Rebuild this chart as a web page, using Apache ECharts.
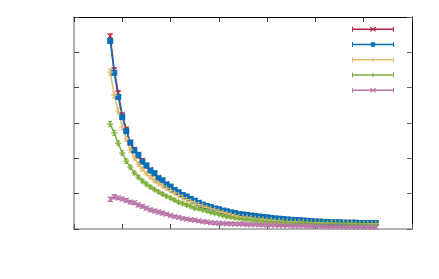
<!DOCTYPE html>
<html><head><meta charset="utf-8">
<script src="https://cdn.jsdelivr.net/npm/echarts@6/dist/echarts.min.js"></script>
<style>html,body{margin:0;padding:0;background:#fff}#c{width:439px;height:279px}</style>
</head><body><div id="c"></div><script>
const xValues = [9,10,11,12,13,14,15,16,17,18,19,20,21,22,23,24,25,26,27,28,29,30,31,32,33,34,35,36,37,38,39,40,41,42,43,44,45,46,47,48,49,50,51,52,53,54,55,56,57,58,59,60,61,62,63,64,65,66,67,68,69,70,71,72,73,74,75];
const seriesNames = ['A','B','C','D','E'];
const redValues = [5.46,4.50,3.85,3.23,2.83,2.43,2.25,2.06,1.94,1.77,1.68,1.55,1.46,1.35,1.28,1.18,1.12,1.02,0.97,0.90,
  0.86,0.79,0.75,0.68,0.66,0.61,0.59,0.55,0.53,0.49,
  0.48,0.44,0.43,0.41,0.40,0.38,0.37,0.36,0.34,0.33,
  0.31,0.30,0.29,0.28,0.27,0.26,0.25,0.25,0.24,0.23,
  0.22,0.21,0.21,0.20,0.20,0.19,0.19,0.19,0.18,0.18,
  0.18,0.18,0.17,0.17,0.17,0.17,0.17];
const blueValues = [5.32,4.42,3.74,3.17,2.77,2.45,2.22,2.10,1.90,1.80,
  1.65,1.58,1.43,1.38,1.26,1.20,1.10,1.04,0.96,0.92,
  0.85,0.80,0.74,0.69,0.65,0.62,0.58,0.56,0.52,0.50,
  0.47,0.45,0.42,0.41,0.40,0.38,0.37,0.35,0.34,0.33,
  0.31,0.30,0.29,0.28,0.27,0.26,0.25,0.25,0.24,0.23,
  0.22,0.21,0.21,0.20,0.20,0.19,0.19,0.19,0.18,0.18,
  0.18,0.18,0.17,0.17,0.17,0.17,0.17];
const orangeValues = [4.44,3.79,3.34,2.89,2.55,2.24,2.01,1.84,1.70,1.57,
  1.47,1.37,1.29,1.22,1.15,1.08,1.02,0.95,0.89,0.83,
  0.78,0.74,0.69,0.65,0.61,0.57,0.54,0.50,0.47,0.44,
  0.41,0.38,0.35,0.34,0.33,0.31,0.29,0.28,0.27,0.25,
  0.25,0.23,0.23,0.22,0.21,0.21,0.20,0.20,0.19,0.19,
  0.18,0.18,0.18,0.17,0.17,0.17,0.16,0.16,0.16,0.16,
  0.16,0.15,0.15,0.15,0.15,0.15,0.15];
const greenValues = [2.97,2.72,2.43,2.15,1.92,1.75,1.59,1.47,1.36,1.27,
  1.19,1.12,1.05,0.99,0.93,0.88,0.82,0.76,0.72,0.68,
  0.64,0.59,0.57,0.54,0.51,0.47,0.44,0.41,0.38,0.35,
  0.33,0.31,0.30,0.28,0.27,0.26,0.25,0.24,0.23,0.22,
  0.21,0.21,0.20,0.20,0.19,0.19,0.19,0.18,0.18,0.17,
  0.17,0.16,0.16,0.16,0.16,0.15,0.15,0.15,0.15,0.14,
  0.14,0.14,0.14,0.14,0.13,0.13,0.13];
const pinkValues = [0.84,0.91,0.88,0.85,0.81,0.76,0.74,0.68,0.64,0.59,
  0.54,0.51,0.48,0.45,0.42,0.38,0.35,0.33,0.30,0.28,
  0.26,0.25,0.23,0.21,0.20,0.18,0.17,0.16,0.16,0.15,
  0.15,0.14,0.14,0.14,0.13,0.13,0.13,0.12,0.12,0.12,
  0.11,0.11,0.10,0.10,0.10,0.09,0.09,0.09,0.09,0.08,
  0.08,0.08,0.08,0.07,0.07,0.07,0.07,0.07,0.06,0.06,
  0.06,0.06,0.06,0.06,0.06,0.05,0.05];
const redErr = [0.06,0.06,0.06,0.05,0.05,0.05,0.05,0.05,0.05,0.05,
  0.04,0.04,0.04,0.04,0.04,0.04,0.04,0.04,0.04,0.04,
  0.04,0.04,0.04,0.04,0.04,0.03,0.03,0.03,0.03,0.03,
  0.03,0.03,0.03,0.03,0.03,0.03,0.03,0.03,0.03,0.03,
  0.03,0.03,0.03,0.03,0.03,0.03,0.03,0.03,0.03,0.03,
  0.03,0.03,0.03,0.03,0.03,0.03,0.03,0.03,0.03,0.03,
  0.03,0.03,0.03,0.03,0.03,0.03,0.03];
const blueErr = [0.06,0.06,0.06,0.05,0.05,0.05,0.05,0.05,0.05,0.05,
  0.05,0.05,0.04,0.04,0.04,0.04,0.04,0.04,0.04,0.04,
  0.04,0.04,0.04,0.04,0.04,0.04,0.04,0.03,0.03,0.03,
  0.03,0.03,0.03,0.03,0.03,0.03,0.03,0.03,0.03,0.03,
  0.03,0.03,0.03,0.03,0.03,0.03,0.03,0.03,0.03,0.03,
  0.03,0.03,0.03,0.03,0.03,0.03,0.03,0.03,0.03,0.03,
  0.03,0.03,0.03,0.03,0.03,0.03,0.03];
const orangeErr = [0.09,0.09,0.08,0.08,0.07,0.07,0.06,0.06,0.06,0.05,
  0.05,0.05,0.05,0.05,0.04,0.04,0.04,0.04,0.04,0.04,
  0.04,0.04,0.04,0.04,0.04,0.03,0.03,0.03,0.03,0.03,
  0.03,0.03,0.03,0.03,0.03,0.03,0.03,0.03,0.03,0.03,
  0.03,0.03,0.03,0.03,0.03,0.03,0.03,0.03,0.03,0.03,
  0.03,0.03,0.03,0.03,0.03,0.03,0.03,0.03,0.03,0.03,
  0.03,0.03,0.03,0.03,0.03,0.03,0.03];
const greenErr = [0.07,0.07,0.06,0.06,0.06,0.05,0.05,0.05,0.05,0.05,
  0.04,0.04,0.04,0.04,0.04,0.04,0.04,0.04,0.04,0.04,
  0.04,0.04,0.03,0.03,0.03,0.03,0.03,0.03,0.03,0.03,
  0.03,0.03,0.03,0.03,0.03,0.03,0.03,0.03,0.03,0.03,
  0.03,0.03,0.03,0.03,0.03,0.03,0.03,0.03,0.03,0.03,
  0.03,0.03,0.03,0.03,0.03,0.03,0.03,0.03,0.03,0.03,
  0.03,0.03,0.03,0.03,0.03,0.03,0.03];
const pinkErr = [0.06,0.06,0.05,0.05,0.05,0.05,0.05,0.05,0.05,0.05,
  0.05,0.05,0.05,0.05,0.04,0.04,0.04,0.04,0.04,0.04,
  0.04,0.04,0.04,0.04,0.04,0.04,0.04,0.04,0.04,0.04,
  0.04,0.04,0.04,0.04,0.04,0.04,0.04,0.04,0.04,0.04,
  0.03,0.03,0.03,0.03,0.03,0.03,0.03,0.03,0.03,0.03,
  0.03,0.03,0.03,0.03,0.03,0.03,0.03,0.03,0.03,0.03,
  0.03,0.03,0.03,0.03,0.03,0.03,0.03];

const colors = ['#b5223f','#0b6fb8','#e3bd6e','#7faf3f','#b874a6'];
const allValues = [redValues, blueValues, orangeValues, greenValues, pinkValues];
const allErr = [redErr, blueErr, orangeErr, greenErr, pinkErr];

const X_SYM = 'path://M1,0 L5,4 L9,0 L10,1 L6,5 L10,9 L9,10 L5,6 L1,10 L0,9 L4,5 L0,1 Z';
const PLUS_SYM = 'path://M4,0 H6 V4 H10 V6 H6 V10 H4 V6 H0 V4 H4 Z';
const markers = [X_SYM, 'rect', PLUS_SYM, PLUS_SYM, X_SYM];
const markerSizes = [6, 6, 6, 6, 6];

const base = 'M0,0 H1 V5 H0 Z M1,1.8 H41 V3.2 H1 Z M41,0 H42 V5 H41 Z ';
const lgX = 'M18.5,0 L21,1.8 L23.5,0 L24.2,0.7 L21.8,2.5 L24.2,4.3 L23.5,5 L21,3.2 L18.5,5 L17.8,4.3 L20.2,2.5 L17.8,0.7 Z';
const lgSq = 'M18.8,0.2 H23.2 V4.8 H18.8 Z';
const lgPlus = 'M20.5,0.3 H21.5 V4.7 H20.5 Z';
const legendIcons = ['path://' + base + lgX, 'path://' + base + lgSq, 'path://' + base + lgPlus, 'path://' + base + lgPlus, 'path://' + base + lgX];

function errRenderer(color) {
  return function (params, api) {
    const x = api.value(0), y = api.value(1), e = api.value(2);
    const t = api.coord([x, y + e]), b = api.coord([x, y - e]);
    const hw = 2;
    const st = { stroke: color, lineWidth: 1.2 };
    return { type: 'group', children: [
      { type: 'line', shape: { x1: t[0], y1: t[1], x2: b[0], y2: b[1] }, style: st },
      { type: 'line', shape: { x1: t[0] - hw, y1: t[1], x2: t[0] + hw, y2: t[1] }, style: st },
      { type: 'line', shape: { x1: b[0] - hw, y1: b[1], x2: b[0] + hw, y2: b[1] }, style: st }
    ]};
  };
}

const series = [];
seriesNames.forEach((name, i) => {
  series.push({
    type: 'custom', name: name, silent: true,
    itemStyle: { color: colors[i] },
    renderItem: errRenderer(colors[i]),
    data: xValues.map((x, j) => [x, allValues[i][j], allErr[i][j]]),
    z: 2
  });
  series.push({
    type: 'line', name: name, silent: true,
    symbol: markers[i], symbolSize: markerSizes[i],
    itemStyle: { color: colors[i] },
    lineStyle: { color: colors[i], width: 1.5 },
    data: xValues.map((x, j) => [x, allValues[i][j]]),
    z: 2
  });
});

const chart = echarts.init(document.getElementById('c'), null, { renderer: 'canvas' });
function axis(extra) {
  return Object.assign({
    type: 'value', axisLabel: { show: false }, splitLine: { show: false }
  }, extra);
}
chart.setOption({
  animation: false,
  backgroundColor: '#fff',
  grid: { left: 74, right: 27, top: 17, bottom: 50 },
  legend: {
    orient: 'vertical', left: 352, top: 26.8, padding: 0,
    itemWidth: 42, itemHeight: 5, itemGap: 10.25,
    selectedMode: false,
    formatter: function () { return ''; },
    textStyle: { fontSize: 1, padding: 0 },
    data: seriesNames.map((n, i) => ({ name: n, icon: legendIcons[i] }))
  },
  xAxis: [
    axis({ position: 'bottom', min: 0, max: 84, interval: 12,
      axisLine: { show: true, onZero: false, lineStyle: { color: '#999', width: 1.5 } },
      axisTick: { show: true, inside: true, length: 5, lineStyle: { color: '#555' } } }),
    axis({ position: 'top', min: 0, max: 84, interval: 12,
      axisLine: { show: true, onZero: false, lineStyle: { color: '#000', width: 1 } },
      axisTick: { show: true, inside: true, length: 5, lineStyle: { color: '#333' } } })
  ],
  yAxis: [
    axis({ position: 'left', min: 0, max: 6, interval: 1,
      axisLine: { show: true, onZero: false, lineStyle: { color: '#999', width: 1.5 } },
      axisTick: { show: true, inside: true, length: 5, lineStyle: { color: '#444' } } }),
    axis({ position: 'right', min: 0, max: 6, interval: 1,
      axisLine: { show: true, onZero: false, lineStyle: { color: '#000', width: 1 } },
      axisTick: { show: true, inside: true, length: 5, lineStyle: { color: '#666' } } })
  ],
  series: series
});
</script></body></html>
